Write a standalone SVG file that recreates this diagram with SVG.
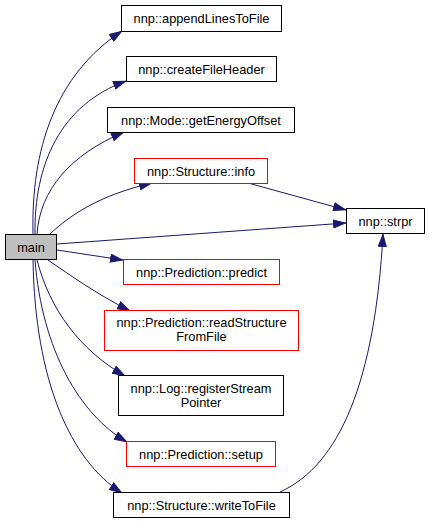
<svg xmlns="http://www.w3.org/2000/svg" width="429" height="524" viewBox="0 0 429 524">
<style>
.n rect{fill:#fff;stroke:#000;stroke-width:1}
.n.r rect{stroke:#ff0000}
.n.m rect{fill:#bfbfbf}
text{font-family:"Liberation Sans",Arial,sans-serif;font-size:12.8px;fill:#000;text-anchor:middle}
.e path{fill:none;stroke:#191970;stroke-width:1;marker-end:url(#a)}
</style>
<defs>
<marker id="a" viewBox="0 0 13 9" refX="13" refY="4.5" markerWidth="13" markerHeight="9" markerUnits="userSpaceOnUse" orient="auto">
<path d="M0.5,0.5 L12.5,4.5 L0.5,8.5 z" fill="#191970" stroke="#191970" stroke-width="1"/>
</marker>
</defs>
<g id="edges" class="e">
<path d="M33,234 C31,150 55,75 122,31"/>
<path d="M35,234 C34,165 60,105 126,81"/>
<path d="M37,234 C40,190 70,155 124,132"/>
<path d="M50,234 C70,215 100,195 152,183"/>
<path d="M57,244 L346,223"/>
<path d="M57,250 L123,260"/>
<path d="M48,260 C70,275 95,293 130,311"/>
<path d="M37,260 C50,310 80,350 125,376"/>
<path d="M35,260 C42,350 80,415 127,442"/>
<path d="M33,260 C35,380 70,460 122,493"/>
<path d="M248,183 L346,210"/>
<path d="M280,492 C340,465 375,380 383,234"/>
</g>
<g id="main" class="n m"><rect x="5.5" y="234.5" width="51" height="25"/><text x="31" y="251.5">main</text></g>
<g id="appendLinesToFile" class="n"><rect x="121.5" y="5.5" width="160" height="26"/><text x="201.5" y="22.5">nnp::appendLinesToFile</text></g>
<g id="createFileHeader" class="n"><rect x="126.5" y="56.5" width="150" height="25"/><text x="201.5" y="73.5">nnp::createFileHeader</text></g>
<g id="getEnergyOffset" class="n"><rect x="107.5" y="107.5" width="187" height="25"/><text x="201" y="124.5">nnp::Mode::getEnergyOffset</text></g>
<g id="info" class="n r"><rect x="134.5" y="158.5" width="133" height="25"/><text x="201" y="175.5">nnp::Structure::info</text></g>
<g id="strpr" class="n"><rect x="346.5" y="208.5" width="78" height="25"/><text x="385.5" y="225.5">nnp::strpr</text></g>
<g id="predict" class="n r"><rect x="123.5" y="259.5" width="156" height="25"/><text x="201.5" y="276.5">nnp::Prediction::predict</text></g>
<g id="readStructureFromFile" class="n r"><rect x="104.5" y="310.5" width="194" height="40"/><text x="201.5" y="327">nnp::Prediction::readStructure</text><text x="201.5" y="341">FromFile</text></g>
<g id="registerStreamPointer" class="n"><rect x="118.5" y="375.5" width="165" height="40"/><text x="201" y="392.5">nnp::Log::registerStream</text><text x="201" y="406.5">Pointer</text></g>
<g id="setup" class="n r"><rect x="126.5" y="441.5" width="149" height="25"/><text x="201" y="458.5">nnp::Prediction::setup</text></g>
<g id="writeToFile" class="n"><rect x="113.5" y="492.5" width="176" height="25"/><text x="201.5" y="509.5">nnp::Structure::writeToFile</text></g>
</svg>
